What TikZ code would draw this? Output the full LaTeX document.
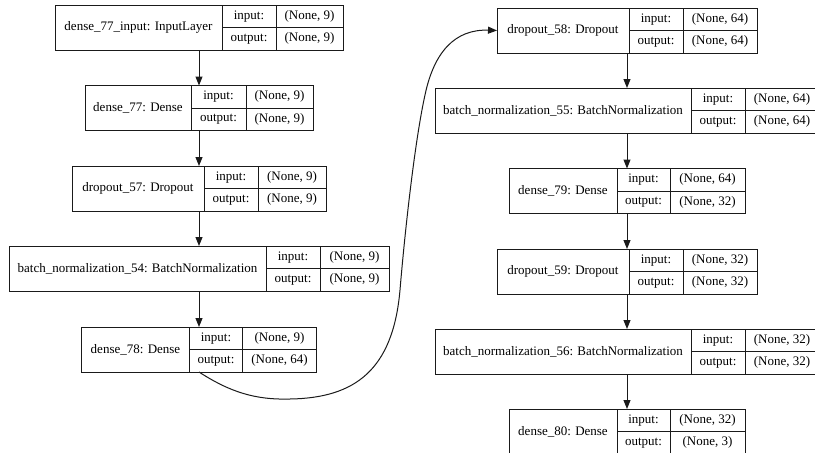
\documentclass[tikz,border=0pt]{standalone}
\usepackage{fontspec}
\setmainfont{Liberation Serif}
\usepackage{tikz}
\usetikzlibrary{positioning,arrows.meta}
\definecolor{edge}{HTML}{1A1A1A}

% one keras layer record: name | input:/output: | shapes
\newcommand{\kerasrec}[9]{%
  \node[rec,minimum width=#4] (#1) at (#2,#3) {};
  \node[lblcell,minimum width=#5,anchor=west] (#1-lbl) at (#1.west) {#7};
  \node[cell,minimum width=#6,anchor=north west] (#1-in) at (#1-lbl.north east) {input:};
  \node[cell,minimum width=#6,anchor=north west] (#1-out) at (#1-in.south west) {output:};
  \node[cell,minimum width=#4-#5-#6,anchor=north west] (#1-ins) at (#1-in.north east) {#8};
  \node[cell,minimum width=#4-#5-#6,anchor=north west] (#1-outs) at (#1-out.north east) {#9};}

\begin{document}
\begin{tikzpicture}[x=1pt,y=-1pt,font=\fontsize{13}{15}\selectfont,
    rec/.style={draw=edge,line width=.9pt,minimum height=45,inner sep=0pt,outer sep=0pt},
    lblcell/.style={draw=edge,line width=.9pt,minimum height=45,inner sep=0pt,outer sep=0pt},
    cell/.style={draw=edge,line width=.9pt,minimum height=22.5,inner sep=0pt,outer sep=0pt},
    arr/.style={-{Triangle[length=9pt,width=7pt]},line width=1pt,edge}]
  \useasboundingbox (0,0) rectangle (815,453);
  \clip (0,0) rectangle (815,453);
  % left column
  \kerasrec{in77}{199}{27.5}{288}{167}{54}{dense\_77\_input: InputLayer}{(None, 9)}{(None, 9)}
  \kerasrec{d77}{199}{108}{228}{106}{55}{dense\_77: Dense}{(None, 9)}{(None, 9)}
  \kerasrec{drop57}{199}{188.5}{254}{132}{54}{dropout\_57: Dropout}{(None, 9)}{(None, 9)}
  \kerasrec{bn54}{199}{268.5}{380}{257}{54}{batch\_normalization\_54: BatchNormalization}{(None, 9)}{(None, 9)}
  \kerasrec{d78}{199}{349.5}{235}{108}{53}{dense\_78: Dense}{(None, 9)}{(None, 64)}
  % right column
  \kerasrec{drop58}{627}{30.5}{260}{132}{54}{dropout\_58: Dropout}{(None, 64)}{(None, 64)}
  \kerasrec{bn55}{627}{110.5}{384}{256}{54}{batch\_normalization\_55: BatchNormalization}{(None, 64)}{(None, 64)}
  \kerasrec{d79}{627}{191}{236}{108}{53}{dense\_79: Dense}{(None, 64)}{(None, 32)}
  \kerasrec{drop59}{627}{271.5}{260}{132}{54}{dropout\_59: Dropout}{(None, 32)}{(None, 32)}
  \kerasrec{bn56}{627}{351.5}{384}{256}{54}{batch\_normalization\_56: BatchNormalization}{(None, 32)}{(None, 32)}
  \kerasrec{d80}{627}{431.5}{236}{108}{53}{dense\_80: Dense}{(None, 32)}{(None, 3)}
  % connectors
  \draw[arr] (in77) -- (d77); \draw[arr] (d77) -- (drop57);
  \draw[arr] (drop57) -- (bn54); \draw[arr] (bn54) -- (d78);
  \draw[arr] (d78.south) .. controls (230,392) and (255,400) .. (290,399)
    .. controls (355,398) and (393,370) .. (400,290)
    .. controls (405,230) and (415,140) .. (425,95)
    .. controls (434,52) and (455,29) .. (drop58.west);
  \draw[arr] (drop58) -- (bn55); \draw[arr] (bn55) -- (d79);
  \draw[arr] (d79) -- (drop59); \draw[arr] (drop59) -- (bn56);
  \draw[arr] (bn56) -- (d80);
\end{tikzpicture}
\end{document}
